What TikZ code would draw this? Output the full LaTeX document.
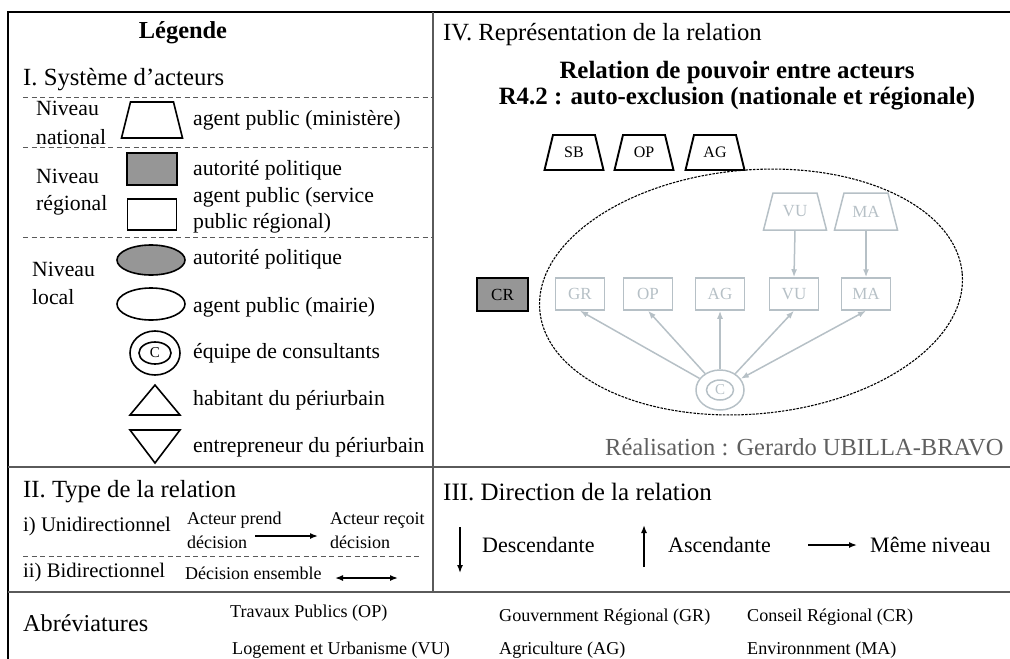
\documentclass[tikz,border=0pt]{standalone}
\usepackage{fontspec}
\setmainfont{Liberation Serif}
\usetikzlibrary{shapes.geometric,arrows.meta}
\definecolor{lg}{RGB}{182,192,198}
\definecolor{mg}{RGB}{150,150,150}
\definecolor{rg}{RGB}{95,95,95}
\definecolor{divc}{RGB}{90,90,90}
\newcommand\fsz[1]{\fontsize{#1}{#1}\selectfont}
% #1 name, #2 cx, #3 cy, #4 bottom width, #5 top width, #6 height, #7 line style, #8 text style, #9 text
\newcommand\trapsh[9]{%
  \draw[#7,line join=miter] ({#2-#4/2},{#3+#6/2}) -- ({#2+#4/2},{#3+#6/2}) -- ({#2+#5/2},{#3-#6/2}) -- ({#2-#5/2},{#3-#6/2}) -- cycle;
  \node[inner sep=0pt,minimum width=#4,minimum height=#6,#8] (#1) at (#2,#3) {#9};}
\begin{document}
\begin{tikzpicture}[x=1pt,y=-1pt,
  txt/.style={anchor=west,inner sep=0pt},
  divl/.style={draw=divc,line width=1.2pt},
  dsh/.style={draw=divc,line width=0.8pt,dash pattern=on 5pt off 3.5pt},
  shp/.style={draw=black,line width=1.6pt},
  gline/.style={draw=lg,line width=1.5pt},
  gnode/.style={draw=lg,line width=1.5pt,text=lg,inner sep=0pt,font=\fsz{17}},
  garr/.style={draw=lg,line width=1.5pt,-{Latex[length=8pt,width=6pt]}},
  barr/.style={draw=black,line width=1.5pt,-{Latex[length=8pt,width=6pt]}},
]
\useasboundingbox (0,0) rectangle (1010,659);
% frame
\draw[line width=2pt] (8,659) -- (8,12) -- (1010,12);
\draw[divl] (433,12) -- (433,592);
\draw[divl] (8,467) -- (1010,467);
\draw[divl] (8,592) -- (1010,592);
% ---------- Legend ----------
\node[font=\bfseries\fsz{24.4},inner sep=0pt] (leg) at (183,33) {Légende};
\node[txt,font=\fsz{24.7}] (sys) at (23,80) {I. Système d’acteurs};
\draw[dsh] (23,97) -- (433,97);
\draw[dsh] (23,147) -- (433,147);
\draw[dsh] (23,237) -- (433,237);
\node[txt,font=\fsz{21.7}] (nn1) at (36,108) {Niveau};
\node[txt,font=\fsz{21.7}] (nn2) at (36,137) {national};
\trapsh{tnat}{152}{120}{61}{43}{36}{shp}{}{}
\node[txt,font=\fsz{21.7}] (lnat) at (193,120) {agent public (ministère)};
\node[txt,font=\fsz{21.7}] (nr1) at (36,176) {Niveau};
\node[txt,font=\fsz{21.7}] (nr2) at (36,205) {régional};
\node[shp,fill=mg,minimum width=50,minimum height=32,inner sep=0pt] (rgray) at (152,169) {};
\node[shp,minimum width=49,minimum height=31,inner sep=0pt] (rwhite) at (152,214.5) {};
\node[txt,font=\fsz{21.7}] (lrg1) at (193,170) {autorité politique};
\node[txt,font=\fsz{21.7}] (lrg2) at (193,197) {agent public (service};
\node[txt,font=\fsz{21.7}] (lrg3) at (193,223) {public régional)};
\node[txt,font=\fsz{21.7}] (nl1) at (32,269) {Niveau};
\node[txt,font=\fsz{21.7}] (nl2) at (32,297) {local};
\node[shp,ellipse,fill=mg,minimum width=68,minimum height=30,inner sep=0pt] (egray) at (151,260) {};
\node[shp,ellipse,minimum width=68,minimum height=32,inner sep=0pt] (ewhite) at (151,304) {};
\node[txt,font=\fsz{21.7}] (lel1) at (193,259) {autorité politique};
\node[txt,font=\fsz{21.7}] (lel2) at (193,307) {agent public (mairie)};
\node[shp,ellipse,minimum width=50,minimum height=44,inner sep=0pt] (cout) at (155,353) {};
\node[shp,ellipse,minimum width=32,minimum height=22,inner sep=0pt,font=\fsz{15}] (cin) at (155,353) {C};
\node[txt,font=\fsz{21.7}] (lcons) at (193,353) {équipe de consultants};
\draw[shp,line join=miter] (155,385) -- (180,415) -- (130,415) -- cycle;
\node[txt,font=\fsz{21.7}] (lhab) at (193,400) {habitant du périurbain};
\draw[shp,line join=miter] (130,430) -- (180,430) -- (155,463) -- cycle;
\node[txt,font=\fsz{21.7}] (lent) at (193,447) {entrepreneur du périurbain};
% ---------- IV ----------
\node[txt,font=\fsz{24.7}] (iv) at (443,35) {IV. Représentation de la relation};
\node[font=\bfseries\fsz{24.9},inner sep=0pt] (t1) at (737,73) {Relation de pouvoir entre acteurs};
\node[font=\bfseries\fsz{24.9},inner sep=0pt] (t2) at (737,99) {R4.2 : auto-exclusion (nationale et régionale)};
\trapsh{sb}{574}{152.5}{59}{42}{35}{shp,line width=1.9pt}{font=\fsz{16}}{SB}
\trapsh{op1}{644}{152.5}{59}{42}{35}{shp,line width=1.9pt}{font=\fsz{16}}{OP}
\trapsh{ag1}{715}{152.5}{59}{42}{35}{shp,line width=1.9pt}{font=\fsz{16}}{AG}
\draw[line width=1.1pt,dash pattern=on 2.5pt off 1.2pt,rotate around={5:(751,292)}] (751,292) ellipse [x radius=212, y radius=122];
\trapsh{vut}{795}{211.5}{63}{44}{37}{gline}{text=lg,font=\fsz{17}}{VU}
\trapsh{mat}{866}{211.5}{63}{44}{37}{gline}{text=lg,font=\fsz{17}}{MA}
\node[gnode,minimum width=49,minimum height=32] (gr) at (580,294) {GR};
\node[gnode,minimum width=49,minimum height=32] (op2) at (648,294) {OP};
\node[gnode,minimum width=49,minimum height=32] (ag2) at (720,294) {AG};
\node[gnode,minimum width=49,minimum height=32] (vu) at (794,294) {VU};
\node[gnode,minimum width=49,minimum height=32] (ma) at (866,294) {MA};
\node[shp,line width=1.9pt,fill=mg,minimum width=51,minimum height=33,inner sep=0pt,font=\fsz{17}] (cr) at (502.5,294.5) {CR};
\node[gnode,ellipse,minimum width=48,minimum height=40] (co) at (720,390) {};
\node[gnode,ellipse,minimum width=27,minimum height=20,font=\fsz{15}] (ci) at (720,390) {C};
\draw[garr] (vut.south) -- (vu.north);
\draw[garr] (mat.south) -- (ma.north);
\draw[garr] (co) -- (gr.south);
\draw[garr] (co) -- (op2.south);
\draw[garr] (co) -- (ag2.south);
\draw[garr] (co) -- (vu.south);
\draw[garr,{Latex[length=8pt,width=6pt]}-{Latex[length=8pt,width=6pt]}] (co) -- (ma.south);
\node[txt,font=\fsz{24.5},text=rg] (real) at (605,447) {Réalisation : Gerardo UBILLA-BRAVO};
% ---------- II ----------
\node[txt,font=\fsz{24.7}] (ii) at (23,492) {II. Type de la relation};
\node[txt,font=\fsz{20.7}] (uni) at (23,527) {i) Unidirectionnel};
\node[txt,font=\fsz{18}] (ap1) at (187,520) {Acteur prend};
\node[txt,font=\fsz{18}] (ap2) at (187,542) {décision};
\node[txt,font=\fsz{18}] (ar1) at (330,520) {Acteur reçoit};
\node[txt,font=\fsz{18}] (ar2) at (330,542) {décision};
\coordinate (ua1) at (255,536);
\coordinate (ua2) at (318,536);
\draw[barr] (ua1) -- (ua2);
\draw[dsh] (23,556) -- (420,556);
\node[txt,font=\fsz{20.7}] (bid) at (23,573) {ii) Bidirectionnel};
\node[txt,font=\fsz{18}] (dens) at (185,573) {Décision ensemble};
\coordinate (ba1) at (335,578);
\coordinate (ba2) at (398,578);
\draw[barr,{Latex[length=8pt,width=6pt]}-{Latex[length=8pt,width=6pt]}] (ba1) -- (ba2);
% ---------- III ----------
\node[txt,font=\fsz{25}] (iii) at (443,492) {III. Direction de la relation};
\coordinate (da1) at (460,527);
\coordinate (da2) at (460,573);
\draw[barr] (da1) -- (da2);
\node[txt,font=\fsz{22}] (desc) at (482,545) {Descendante};
\coordinate (aa1) at (644,567);
\coordinate (aa2) at (644,525);
\draw[barr] (aa1) -- (aa2);
\node[txt,font=\fsz{22}] (asc) at (668,545) {Ascendante};
\coordinate (ma1) at (808,545);
\coordinate (ma2) at (857,545);
\draw[barr] (ma1) -- (ma2);
\node[txt,font=\fsz{22}] (meme) at (870,545) {Même niveau};
% ---------- Abréviatures ----------
\node[txt,font=\fsz{24.2}] (abr) at (23,623) {Abréviatures};
\node[txt,font=\fsz{18.1}] (a1) at (230,613) {Travaux Publics (OP)};
\node[txt,font=\fsz{18.1}] (a2) at (232,650) {Logement et Urbanisme (VU)};
\node[txt,font=\fsz{18.1}] (a3) at (499,617) {Gouvernment Régional (GR)};
\node[txt,font=\fsz{18.1}] (a4) at (499,650) {Agriculture (AG)};
\node[txt,font=\fsz{18.1}] (a5) at (747,617) {Conseil Régional (CR)};
\node[txt,font=\fsz{18.1}] (a6) at (747,650) {Environnment (MA)};
\end{tikzpicture}
\end{document}
